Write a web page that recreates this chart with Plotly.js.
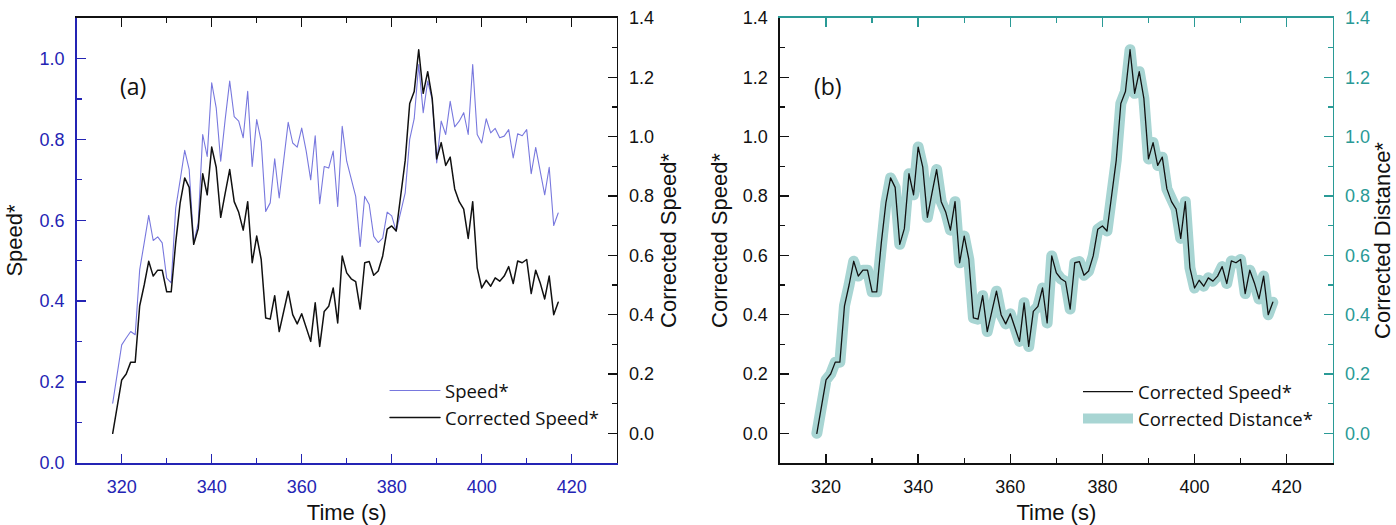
<!DOCTYPE html>
<html>
<head>
<meta charset="utf-8">
<script src="https://cdn.plot.ly/plotly-3.0.1.min.js"></script>
<style>html,body{margin:0;padding:0;background:#fff;}#chart{width:1396px;height:525px;}</style>
</head>
<body>
<div id="chart"></div>
<script>
// ---- data (time in seconds) ----
const timeS = [318,319,320,321,322,323,324,325,326,327,328,329,330,331,332,333,334,335,336,337,
  338,339,340,341,342,343,344,345,346,347,348,349,350,351,352,353,354,355,356,357,
  358,359,360,361,362,363,364,365,366,367,368,369,370,371,372,373,374,375,376,377,
  378,379,380,381,382,383,384,385,386,387,388,389,390,391,392,393,394,395,396,397,
  398,399,400,401,402,403,404,405,406,407,408,409,410,411,412,413,414,415,416,417];

const speed = [0.148,0.22,0.292,0.309,0.325,0.317,0.478,0.544,0.612,0.55,0.559,0.544,0.457,0.445,0.63,0.70,0.773,0.725,0.544,0.593,
  0.812,0.758,0.94,0.878,0.746,0.85,0.944,0.856,0.845,0.804,0.919,0.733,0.849,0.795,0.622,0.643,0.752,0.655,0.75,0.842,
  0.791,0.781,0.828,0.771,0.70,0.809,0.641,0.733,0.729,0.771,0.634,0.832,0.746,0.70,0.659,0.535,0.659,0.639,0.56,0.545,
  0.556,0.62,0.611,0.573,0.622,0.668,0.80,0.851,0.985,0.866,0.944,0.898,0.742,0.845,0.812,0.894,0.831,0.845,0.866,0.812,
  0.985,0.812,0.791,0.851,0.816,0.827,0.804,0.808,0.824,0.754,0.814,0.809,0.824,0.715,0.78,0.725,0.663,0.731,0.587,0.618];

const correctedSpeed = [0.0,0.09,0.18,0.20,0.24,0.24,0.43,0.50,0.58,0.53,0.55,0.55,0.477,0.477,0.643,0.778,0.861,0.829,0.637,0.69,
  0.875,0.804,0.965,0.897,0.728,0.81,0.889,0.781,0.745,0.685,0.781,0.575,0.665,0.586,0.389,0.385,0.464,0.343,0.41,0.479,
  0.40,0.369,0.403,0.36,0.31,0.44,0.293,0.411,0.428,0.49,0.372,0.598,0.541,0.521,0.511,0.419,0.575,0.579,0.533,0.547,
  0.598,0.688,0.699,0.682,0.801,0.92,1.112,1.152,1.293,1.146,1.219,1.129,0.925,0.98,0.903,0.931,0.824,0.781,0.756,0.657,
  0.781,0.558,0.49,0.516,0.496,0.524,0.513,0.53,0.562,0.505,0.581,0.575,0.586,0.471,0.55,0.507,0.453,0.53,0.40,0.442];

const correctedDistance = [0.0,0.09,0.18,0.20,0.24,0.24,0.43,0.50,0.58,0.53,0.55,0.55,0.477,0.477,0.643,0.778,0.861,0.829,0.637,0.69,
  0.875,0.804,0.965,0.897,0.728,0.81,0.889,0.781,0.745,0.685,0.781,0.575,0.665,0.586,0.389,0.385,0.464,0.343,0.41,0.479,
  0.40,0.369,0.403,0.36,0.31,0.44,0.293,0.411,0.428,0.49,0.372,0.598,0.541,0.521,0.511,0.419,0.575,0.579,0.533,0.547,
  0.598,0.688,0.699,0.682,0.801,0.92,1.112,1.152,1.293,1.146,1.219,1.129,0.925,0.98,0.903,0.931,0.824,0.781,0.756,0.657,
  0.781,0.558,0.49,0.516,0.496,0.524,0.513,0.53,0.562,0.505,0.581,0.575,0.586,0.471,0.55,0.507,0.453,0.53,0.40,0.442];

const xTickVals = [320,340,360,380,400,420];
const leftTicksA = [0,0.2,0.4,0.6,0.8,1.0];
const rightTicks = [0,0.2,0.4,0.6,0.8,1.0,1.2,1.4];
const panelLabels = ['(a)','(b)'];
const titles = {time:'Time (s)', speed:'Speed*', cspeed:'Corrected Speed*', cdist:'Corrected Distance*'};

// ---- styles ----
const BLUE_AX = '#2424b4', BLUE_LN = '#7878de', BLACK = '#111111', TEAL_AX = '#2a9a96', TEAL_LN = '#a8d5d3';
const TF = 'Liberation Sans, Arial, sans-serif';
const LF = 'Open Sans, sans-serif';
const domA = [76.7/1396, 616.7/1396];
const domB = [780/1396, 1332.7/1396];
const domY = [62/525, 507/525];

function axBase(color, extra){
  return Object.assign({
    showline:true, linecolor:color, linewidth:1.6, ticks:'inside', ticklen:9, tickwidth:1.5, tickcolor:color,
    showgrid:false, zeroline:false, tickfont:{family:TF, size:18, color:color}, fixedrange:true,
    ticklabelstandoff:7
  }, extra);
}
function fmt(v){ return v.toFixed(1); }

const traces = [
  {x:timeS, y:speed, name:'Speed*', type:'scatter', mode:'lines', xaxis:'x', yaxis:'y',
   line:{color:BLUE_LN, width:1.1}, legend:'legend'},
  {x:timeS, y:correctedSpeed, name:'Corrected Speed*', type:'scatter', mode:'lines', xaxis:'x3', yaxis:'y2',
   line:{color:BLACK, width:1.5}, legend:'legend'},
  {x:timeS, y:correctedDistance, name:'Corrected Distance*', type:'scatter', mode:'lines', xaxis:'x2', yaxis:'y3',
   line:{color:TEAL_LN, width:11}, legend:'legend2', legendrank:2},
  {x:timeS, y:correctedSpeed, name:'Corrected Speed*', type:'scatter', mode:'lines', xaxis:'x4', yaxis:'y4',
   line:{color:BLACK, width:1.3}, legend:'legend2', legendrank:1}
];

const xRange = [310,430];
const yRangeR = [-0.1,1.4];

const layout = {
  width:1396, height:525, margin:{l:0,r:0,t:0,b:0}, paper_bgcolor:'#fff', plot_bgcolor:'rgba(0,0,0,0)',
  showlegend:true,
  // panel (a)
  xaxis: axBase(BLUE_AX, {domain:domA, range:xRange, anchor:'y', tickvals:xTickVals, ticktext:xTickVals.map(String),
    minor:{dtick:10, tick0:310, ticks:'inside', ticklen:5, tickcolor:BLUE_AX, tickwidth:1.3},
    title:{text:titles.time, font:{family:TF, size:22, color:'#111'}, standoff:11}}),
  yaxis: axBase(BLUE_AX, {domain:domY, range:[0,1.1], anchor:'x', tickvals:leftTicksA, ticktext:leftTicksA.map(fmt),
    minor:{dtick:0.1, tick0:0, ticks:'inside', ticklen:5, tickcolor:BLUE_AX, tickwidth:1.3},
    title:{text:titles.speed, font:{family:TF, size:22, color:'#111'}, standoff:11}}),
  xaxis3: axBase(BLACK, {overlaying:'x', side:'top', range:xRange, anchor:'y2', tickvals:xTickVals, showticklabels:false,
    minor:{dtick:10, tick0:310, ticks:'inside', ticklen:5, tickcolor:BLACK, tickwidth:1.3}}),
  yaxis2: axBase(BLACK, {overlaying:'y', side:'right', range:yRangeR, anchor:'x3', tickvals:rightTicks, ticktext:rightTicks.map(fmt),
    minor:{dtick:0.1, tick0:0, ticks:'inside', ticklen:5, tickcolor:BLACK, tickwidth:1.3},
    title:{text:titles.cspeed, font:{family:TF, size:22, color:'#111'}, standoff:7}}),
  // panel (b)
  xaxis2: axBase(BLACK, {domain:domB, range:xRange, anchor:'y3', tickvals:xTickVals, ticktext:xTickVals.map(String),
    minor:{dtick:10, tick0:310, ticks:'inside', ticklen:5, tickcolor:BLACK, tickwidth:1.3},
    title:{text:titles.time, font:{family:TF, size:22, color:'#111'}, standoff:11}}),
  yaxis3: axBase(BLACK, {domain:domY, range:yRangeR, anchor:'x2', tickvals:rightTicks, ticktext:rightTicks.map(fmt),
    minor:{dtick:0.1, tick0:0, ticks:'inside', ticklen:5, tickcolor:BLACK, tickwidth:1.3},
    title:{text:titles.cspeed, font:{family:TF, size:22, color:'#111'}, standoff:9}}),
  xaxis4: axBase(TEAL_AX, {overlaying:'x2', side:'top', range:xRange, anchor:'y4', tickvals:xTickVals, showticklabels:false,
    minor:{dtick:10, tick0:310, ticks:'inside', ticklen:5, tickcolor:TEAL_AX, tickwidth:1.3}}),
  yaxis4: axBase(TEAL_AX, {overlaying:'y3', side:'right', range:yRangeR, anchor:'x4', tickvals:rightTicks, ticktext:rightTicks.map(fmt),
    minor:{dtick:0.1, tick0:0, ticks:'inside', ticklen:5, tickcolor:TEAL_AX, tickwidth:1.3},
    title:{text:titles.cdist, font:{family:TF, size:22, color:'#111'}, standoff:5}}),
  legend: {x:385/1396, y:1-372/525, xanchor:'left', yanchor:'top', bgcolor:'rgba(0,0,0,0)',
    font:{family:LF, size:18.5, color:'#111'}, itemwidth:50, tracegroupgap:0},
  legend2: {x:1078/1396, y:1-373/525, xanchor:'left', yanchor:'top', bgcolor:'rgba(0,0,0,0)',
    font:{family:LF, size:18.5, color:'#111'}, itemwidth:50, traceorder:'normal'},
  annotations: [
    {text:panelLabels[0], xref:'paper', yref:'paper', x:117.5/1396, y:1-67.5/525, showarrow:false,
     font:{family:LF, size:23, color:'#111'}},
    {text:panelLabels[1], xref:'paper', yref:'paper', x:828/1396, y:1-67.5/525, showarrow:false,
     font:{family:LF, size:23, color:'#111'}}
  ]
};

Plotly.newPlot('chart', traces, layout, {displayModeBar:false, staticPlot:true}).then(function(){
  document.querySelectorAll('.scatterlayer .js-line').forEach(function(p){
    p.style.strokeLinejoin = 'round'; p.style.strokeLinecap = 'round';
  });
  document.querySelectorAll('.legend .legendlines path').forEach(function(p){
    p.style.strokeLinecap = 'round';
  });
});
</script>
</body>
</html>
